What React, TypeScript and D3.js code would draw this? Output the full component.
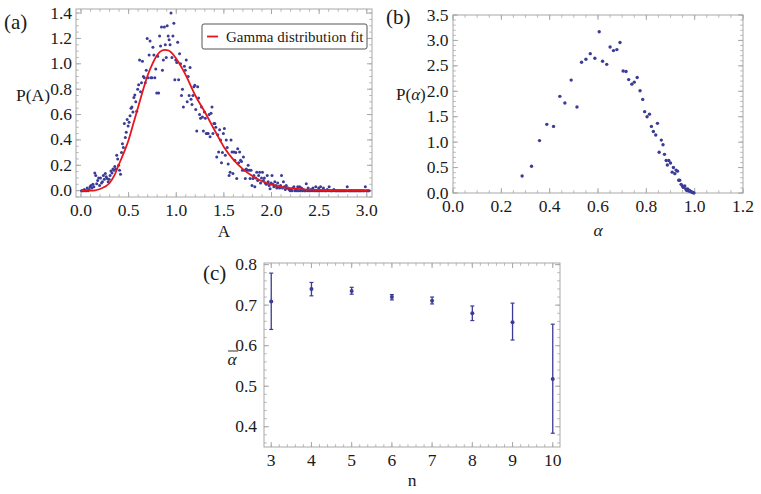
import React from 'react';
import * as d3 from 'd3';

// ---------- Panel (a): histogram of A (bin centres start at A_START, width A_STEP)
const A_START = 0.005;
const A_STEP = 0.01;
const pA = [
  0.0, 0.0, 0.0, 0.01, 0.0, 0.0, 0.02, 0.0, 0.01, 0.03,
  0.04, 0.02, 0.05, 0.03, 0.14, 0.12, 0.055, 0.08, 0.10, 0.04,
  0.10, 0.06, 0.07, 0.12, 0.09, 0.135, 0.11, 0.095, 0.07, 0.09,
  0.12, 0.155, 0.14, 0.17, 0.16, 0.19, 0.17, 0.28, 0.25, 0.20,
  0.16, 0.13, 0.30, 0.37, 0.34, 0.53, 0.42, 0.46, 0.56, 0.51,
  0.54, 0.59, 0.65, 0.66, 0.62, 0.735, 0.755, 0.70, 0.625, 0.80,
  0.835, 1.03, 0.78, 0.85, 1.02, 0.90, 0.89, 0.85, 0.95, 1.20,
  0.89, 1.07, 1.18, 0.89, 0.89, 1.13, 1.07, 0.89, 0.96, 0.77,
  1.06, 0.77, 1.22, 1.14, 1.29, 0.95, 1.03, 1.29, 1.15, 1.05,
  1.30, 1.22, 1.19, 1.15, 1.40, 1.05, 1.22, 1.32, 0.875, 1.03,
  1.01, 1.17, 0.875, 1.08, 1.00, 0.75, 0.80, 0.66, 0.98, 0.95,
  1.03, 0.70, 0.90, 0.75, 0.97, 0.72, 0.68, 0.75, 0.82, 0.83,
  0.64, 0.47, 0.82, 0.73, 0.60, 0.57, 0.66, 0.58, 0.47, 0.62,
  0.57, 0.45, 0.45, 0.45, 0.60, 0.425, 0.61, 0.66, 0.45, 0.53,
  0.53, 0.50, 0.265, 0.44, 0.305, 0.48, 0.40, 0.22, 0.30, 0.45,
  0.49, 0.28, 0.40, 0.34, 0.21, 0.12, 0.145, 0.40, 0.305, 0.135,
  0.305, 0.24, 0.30, 0.095, 0.33, 0.22, 0.305, 0.24, 0.23, 0.16,
  0.265, 0.16, 0.095, 0.17, 0.16, 0.20, 0.16, 0.095, 0.16, 0.04,
  0.095, 0.12, 0.03, 0.10, 0.145, 0.08, 0.12, 0.145, 0.06, 0.10,
  0.145, 0.08, 0.10, 0.06, 0.05, 0.12, 0.07, 0.04, 0.015, 0.06,
  0.12, 0.05, 0.03, 0.07, 0.04, 0.02, 0.06, 0.03, 0.02, 0.04,
  0.12, 0.02, 0.07, 0.03, 0.01, 0.04, 0.02, 0.02, 0.01, 0.0,
  0.01, 0.0, 0.02, 0.03, 0.0, 0.01, 0.0, 0.03, 0.0, 0.03,
  0.0, 0.02, 0.0, 0.01, 0.0, 0.0, 0.055, 0.0, 0.02, 0.0,
  0.0, 0.01, 0.0, 0.02, 0.0, 0.0, 0.03, 0.0, 0.0, 0.02,
  0.0, 0.03, 0.0, 0.0, 0.02, 0.0, 0.0, 0.0, 0.01, 0.0,
  0.03, 0.0, 0.0, 0.0, 0.0, 0.01, 0.0, 0.0, 0.0, 0.0,
  0.0, 0.0, 0.0, 0.0, 0.0, 0.0, 0.0, 0.0, 0.0, 0.03,
  0.0, 0.0, 0.0, 0.0, 0.0, 0.0, 0.0, 0.0, 0.0, 0.0,
  0.0, 0.0, 0.0, 0.0, 0.0, 0.0, 0.0, 0.0, 0.03, 0.0,
  0.0, 0.0, 0.0,
];

// Gamma fit curve
const fitA = [0, 0.1, 0.15, 0.2, 0.25, 0.3, 0.35, 0.4, 0.45, 0.5, 0.55, 0.6, 0.65, 0.7, 0.75, 0.8, 0.85, 0.88, 0.92, 0.96, 1.0, 1.05, 1.1, 1.15, 1.2, 1.3, 1.4, 1.5, 1.6, 1.7, 1.8, 1.9, 2.0, 2.1, 2.2, 2.3, 2.5, 2.7, 3.02];
const fitP = [0, 0.0005, 0.003, 0.013, 0.03, 0.06, 0.12, 0.21, 0.30, 0.40, 0.53, 0.66, 0.79, 0.91, 1.0, 1.07, 1.105, 1.11, 1.105, 1.08, 1.04, 0.98, 0.91, 0.83, 0.75, 0.62, 0.48, 0.345, 0.245, 0.17, 0.115, 0.074, 0.047, 0.03, 0.02, 0.012, 0.005, 0.002, 0.0];

// ---------- Panel (b)
const alphaB = [0.286, 0.325, 0.358, 0.388, 0.416, 0.442, 0.463, 0.489, 0.513, 0.532, 0.550, 0.568, 0.587, 0.605, 0.619, 0.636, 0.650, 0.664, 0.678, 0.691, 0.704, 0.716, 0.727, 0.740, 0.750, 0.762, 0.774, 0.785, 0.793, 0.803, 0.813, 0.821, 0.829, 0.839, 0.846, 0.853, 0.862, 0.869, 0.875, 0.882, 0.887, 0.893, 0.900, 0.907, 0.912, 0.918, 0.923, 0.929, 0.934, 0.938, 0.944, 0.949, 0.953, 0.959, 0.963, 0.967, 0.971, 0.975, 0.979, 0.983, 0.988, 0.992, 0.997];
const pAlpha = [0.335, 0.526, 1.03, 1.35, 1.31, 1.90, 1.77, 2.22, 1.69, 2.57, 2.63, 2.74, 2.65, 3.17, 2.59, 2.53, 2.87, 2.80, 2.82, 2.96, 2.40, 2.39, 2.23, 2.14, 2.18, 2.27, 2.01, 1.84, 1.60, 1.50, 1.55, 1.31, 1.21, 1.14, 1.37, 0.80, 1.04, 0.95, 0.76, 0.64, 0.55, 0.64, 0.59, 0.41, 0.50, 0.38, 0.45, 0.43, 0.25, 0.25, 0.17, 0.14, 0.11, 0.14, 0.08, 0.05, 0.08, 0.04, 0.05, 0.03, 0.02, 0.01, 0.0];

// ---------- Panel (c)
const nC = [3, 4, 5, 6, 7, 8, 9, 10];
const meanC = [0.709, 0.740, 0.735, 0.720, 0.711, 0.680, 0.658, 0.518];
const lowC = [0.640, 0.723, 0.727, 0.713, 0.703, 0.662, 0.614, 0.384];
const highC = [0.779, 0.756, 0.744, 0.726, 0.720, 0.698, 0.705, 0.653];

// ---------- Tick labels
const ticksAx = [0, 0.5, 1.0, 1.5, 2.0, 2.5, 3.0];
const ticksAy = [0, 0.2, 0.4, 0.6, 0.8, 1.0, 1.2, 1.4];
const ticksBx = [0, 0.2, 0.4, 0.6, 0.8, 1.0, 1.2];
const ticksBy = [0, 0.5, 1.0, 1.5, 2.0, 2.5, 3.0, 3.5];
const ticksCx = [3, 4, 5, 6, 7, 8, 9, 10];
const ticksCy = [0.4, 0.5, 0.6, 0.7, 0.8];

const FONT = "'Liberation Serif', 'Times New Roman', serif";
const FRAME = '#a8a8a8';
const DOT = '#3b3b98';
const TXT = '#1a1a1a';

type PanelProps = {
  left: number; right: number; top: number; bottom: number;
  xDom: [number, number]; yDom: [number, number];
  xMajor: number[]; yMajor: number[];
  xMinorStep: number; yMinorStep: number;
  xFmt: (v: number) => string; yFmt: (v: number) => string;
  yGap: number;
  render: (x: d3.ScaleLinear<number, number>, y: d3.ScaleLinear<number, number>) => React.ReactNode;
};

function Panel(p: PanelProps) {
  const x = d3.scaleLinear().domain(p.xDom).range([p.left, p.right]);
  const y = d3.scaleLinear().domain(p.yDom).range([p.bottom, p.top]);
  const eps = 1e-9;
  const xMinor = d3.range(Math.ceil(p.xDom[0] / p.xMinorStep - eps) * p.xMinorStep, p.xDom[1] + eps, p.xMinorStep);
  const yMinor = d3.range(Math.ceil(p.yDom[0] / p.yMinorStep - eps) * p.yMinorStep, p.yDom[1] + eps, p.yMinorStep);
  const MJ = 5, MN = 2.8;
  return (
    <g>
      <rect x={p.left} y={p.top} width={p.right - p.left} height={p.bottom - p.top} fill="none" stroke={FRAME} strokeWidth={1} />
      {xMinor.map((v, i) => (
        <g key={'xm' + i} stroke={FRAME} strokeWidth={0.8}>
          <line x1={x(v)} x2={x(v)} y1={p.bottom} y2={p.bottom - MN} />
          <line x1={x(v)} x2={x(v)} y1={p.top} y2={p.top + MN} />
        </g>
      ))}
      {yMinor.map((v, i) => (
        <g key={'ym' + i} stroke={FRAME} strokeWidth={0.8}>
          <line x1={p.left} x2={p.left + MN} y1={y(v)} y2={y(v)} />
          <line x1={p.right} x2={p.right - MN} y1={y(v)} y2={y(v)} />
        </g>
      ))}
      {p.xMajor.map((v, i) => (
        <g key={'xM' + i}>
          <line x1={x(v)} x2={x(v)} y1={p.bottom} y2={p.bottom - MJ} stroke={FRAME} />
          <line x1={x(v)} x2={x(v)} y1={p.top} y2={p.top + MJ} stroke={FRAME} />
          <text x={x(v)} y={p.bottom + 19} textAnchor="middle" fontSize={17.5} fontFamily={FONT} fill={TXT}>{p.xFmt(v)}</text>
        </g>
      ))}
      {p.yMajor.map((v, i) => (
        <g key={'yM' + i}>
          <line x1={p.left} x2={p.left + MJ} y1={y(v)} y2={y(v)} stroke={FRAME} />
          <line x1={p.right} x2={p.right - MJ} y1={y(v)} y2={y(v)} stroke={FRAME} />
          <text x={p.left - p.yGap} y={y(v) + 5.5} textAnchor="end" fontSize={17.5} fontFamily={FONT} fill={TXT}>{p.yFmt(v)}</text>
        </g>
      ))}
      {p.render(x, y)}
    </g>
  );
}

export default function App() {
  const f1 = (v: number) => v.toFixed(1);
  const aPts = pA.map((v, i) => ({ a: A_START + i * A_STEP, p: v }));
  const fitPts = fitA.map((a, i) => ({ a, p: fitP[i] }));
  return (
    <svg width={761} height={494} style={{ position: 'absolute', left: 0, top: 0, background: '#fff' }}>
      <rect width={761} height={494} fill="#fff" />
      {/* Panel (a) */}
      <Panel left={76} right={372} top={9} bottom={197}
        xDom={[-0.0525, 3.055]} yDom={[-0.05, 1.432]}
        xMajor={ticksAx} yMajor={ticksAy} xMinorStep={0.1} yMinorStep={0.05}
        xFmt={f1} yFmt={f1} yGap={4}
        render={(x, y) => {
          const line = d3.line<{ a: number; p: number }>().x(d => x(d.a)).y(d => y(d.p)).curve(d3.curveMonotoneX);
          return (
            <g>
              {aPts.map((d, i) => (
                <circle key={i} cx={x(d.a)} cy={y(d.p)} r={1.5} fill={DOT} />
              ))}
              <path d={line(fitPts) || ''} fill="none" stroke="#e8161b" strokeWidth={1.8} />
              <rect x={202} y={24} width={165} height={25} rx={2} fill="#fff" stroke="#555" strokeWidth={1} />
              <line x1={207} x2={218} y1={36.5} y2={36.5} stroke="#e8161b" strokeWidth={1.8} />
              <text x={226} y={41.5} fontSize={15} fontFamily={FONT} fill={TXT}>Gamma distribution fit</text>
            </g>
          );
        }}
      />
      <text x={4} y={29} fontSize={21} fontFamily={FONT} fill={TXT}>(a)</text>
      <text x={16} y={101} fontSize={17.5} fontFamily={FONT} fill={TXT}>P(A)</text>
      <text x={224} y={236.5} fontSize={17} fontFamily={FONT} fill={TXT} textAnchor="middle">A</text>

      {/* Panel (b) */}
      <Panel left={453} right={743} top={15} bottom={193}
        xDom={[0, 1.2]} yDom={[0, 3.5]}
        xMajor={ticksBx} yMajor={ticksBy} xMinorStep={0.05} yMinorStep={0.1}
        xFmt={f1} yFmt={f1} yGap={4.5}
        render={(x, y) => (
          <g>
            {alphaB.map((a, i) => (
              <circle key={i} cx={x(a)} cy={y(pAlpha[i])} r={1.7} fill={DOT} />
            ))}
          </g>
        )}
      />
      <text x={386} y={24} fontSize={21} fontFamily={FONT} fill={TXT}>(b)</text>
      <text x={396} y={100} fontSize={17} fontFamily={FONT} fill={TXT}>P(<tspan fontStyle="italic">α</tspan>)</text>
      <text x={598} y={236} fontSize={17.5} fontFamily={FONT} fill={TXT} textAnchor="middle" fontStyle="italic">α</text>

      {/* Panel (c) */}
      <Panel left={264} right={560} top={263} bottom={447}
        xDom={[2.82, 10.18]} yDom={[0.35, 0.804]}
        xMajor={ticksCx} yMajor={ticksCy} xMinorStep={0.2} yMinorStep={0.02}
        xFmt={(v) => String(v)} yFmt={f1} yGap={7}
        render={(x, y) => (
          <g stroke={DOT} fill={DOT}>
            {nC.map((n, i) => (
              <g key={i}>
                <line x1={x(n)} x2={x(n)} y1={y(lowC[i])} y2={y(highC[i])} strokeWidth={1.3} />
                <line x1={x(n) - 2} x2={x(n) + 2} y1={y(lowC[i])} y2={y(lowC[i])} strokeWidth={1.2} />
                <line x1={x(n) - 2} x2={x(n) + 2} y1={y(highC[i])} y2={y(highC[i])} strokeWidth={1.2} />
                <circle cx={x(n)} cy={y(meanC[i])} r={2} stroke="none" />
              </g>
            ))}
          </g>
        )}
      />
      <text x={203} y={280} fontSize={21} fontFamily={FONT} fill={TXT}>(c)</text>
      <text x={232} y={365} fontSize={17.5} fontFamily={FONT} fill={TXT} textAnchor="middle" fontStyle="italic">α</text>
      <line x1={228} x2={238} y1={351} y2={351} stroke={TXT} strokeWidth={0.9} />
      <text x={412} y={486} fontSize={17.5} fontFamily={FONT} fill={TXT} textAnchor="middle">n</text>
    </svg>
  );
}
